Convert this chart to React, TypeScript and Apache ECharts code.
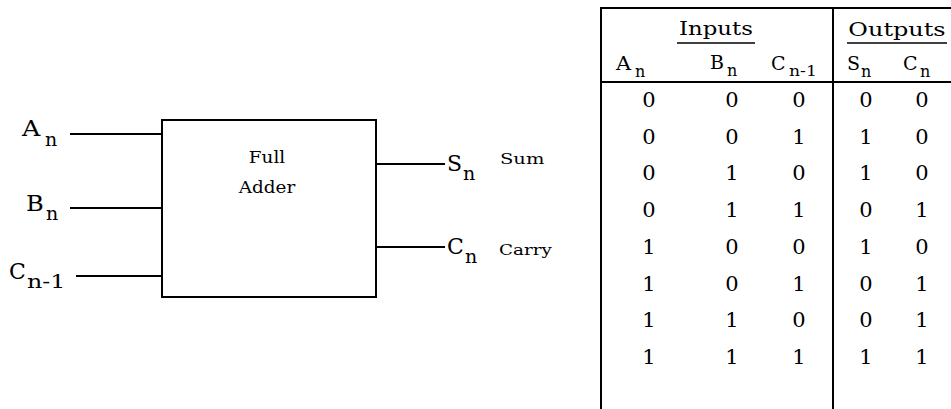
import React, { useEffect, useRef } from "react";
import * as echarts from "echarts";

// Truth table of a full adder
const colA = [0, 0, 0, 0, 1, 1, 1, 1];
const colB = [0, 0, 1, 1, 0, 0, 1, 1];
const colCin = [0, 1, 0, 1, 0, 1, 0, 1];
const colS = [0, 1, 1, 0, 1, 0, 0, 1];
const colCout = [0, 0, 0, 1, 0, 1, 1, 1];
const tableColumns = [colA, colB, colCin, colS, colCout];

const groupHeaders = ["Inputs", "Outputs"];
const boxTitle = ["Full", "Adder"];
const outputNames = ["Sum", "Carry"];

const FONT = "'DejaVu Serif', 'Liberation Serif', serif";
const BLACK = "#000";

function txt(text: string, x: number, y: number, size: number, align = "left", scaleX = 1) {
  return {
    type: "text",
    x,
    y,
    scaleX,
    style: {
      text,
      fontSize: size,
      fontFamily: FONT,
      fill: BLACK,
      align,
      verticalAlign: "middle",
    },
  };
}

function ln(x1: number, y1: number, x2: number, y2: number, w = 2) {
  return {
    type: "line",
    shape: { x1, y1, x2, y2 },
    style: { stroke: BLACK, lineWidth: w },
  };
}

export default function App() {
  const ref = useRef<HTMLDivElement>(null);
  useEffect(() => {
    document.body.style.margin = "0";
    if (!ref.current) return;
    const chart = echarts.init(ref.current, null, { renderer: "svg" });

    const els: any[] = [];
    // ---- Block diagram ----
    els.push({
      type: "rect",
      shape: { x: 162, y: 120, width: 214, height: 177 },
      style: { fill: "none", stroke: BLACK, lineWidth: 2 },
    });
    els.push(ln(70, 134, 162, 134));
    els.push(ln(70, 208, 162, 208));
    els.push(ln(76, 276, 162, 276));
    els.push(ln(376, 164, 445, 164));
    els.push(ln(376, 247, 445, 247));

    // input labels
    els.push(txt("A", 22, 129, 22, "left", 1.15));
    els.push(txt("n", 45, 139, 19));
    els.push(txt("B", 26, 203, 22, "left", 1.1));
    els.push(txt("n", 46, 213, 19));
    els.push(txt("C", 9, 271, 22));
    els.push(txt("n-1", 27, 281, 19, "left", 1.25));

    // box title
    els.push(txt(boxTitle[0], 267, 157, 16, "center", 1.15));
    els.push(txt(boxTitle[1], 267, 187, 16, "center", 1.15));

    // outputs
    els.push(txt("S", 447, 163, 22));
    els.push(txt("n", 463, 173, 19));
    els.push(txt(outputNames[0], 500, 159, 15, "left", 1.3));
    els.push(txt("C", 447, 246, 22));
    els.push(txt("n", 465, 256, 19));
    els.push(txt(outputNames[1], 499, 250, 15, "left", 1.22));

    // ---- Truth table ----
    els.push(ln(600, 8, 951, 8));
    els.push(ln(600, 82, 951, 82));
    els.push(ln(601, 7, 601, 409));
    els.push(ln(833, 7, 833, 409));

    els.push(txt(groupHeaders[0], 716, 29, 19, "center", 1.2));
    els.push(ln(677, 43, 755, 43, 1.5));
    els.push(txt(groupHeaders[1], 897, 29, 19, "center", 1.26));
    els.push(ln(847, 43, 947, 43, 1.5));

    // column headers
    els.push(txt("A", 616, 63, 19, "left", 1.1));
    els.push(txt("n", 635, 71, 16));
    els.push(txt("B", 710, 62, 19));
    els.push(txt("n", 727, 70, 16));
    els.push(txt("C", 771, 63, 19));
    els.push(txt("n-1", 789, 71, 15, "left", 1.15));
    els.push(txt("S", 847, 63, 19));
    els.push(txt("n", 861, 71, 16));
    els.push(txt("C", 903, 63, 19));
    els.push(txt("n", 920, 71, 16));

    const colX = [649, 732, 799, 866, 922];
    const rowY0 = 100;
    const rowStep = 36.7;
    tableColumns.forEach((col, ci) => {
      col.forEach((v, ri) => {
        els.push(txt(String(v), colX[ci], rowY0 + ri * rowStep, 21, "center"));
      });
    });

    chart.setOption({
      animation: false,
      backgroundColor: "#fff",
      graphic: { elements: els },
    });
    return () => chart.dispose();
  }, []);
  return <div ref={ref} style={{ width: 951, height: 409 }} />;
}
